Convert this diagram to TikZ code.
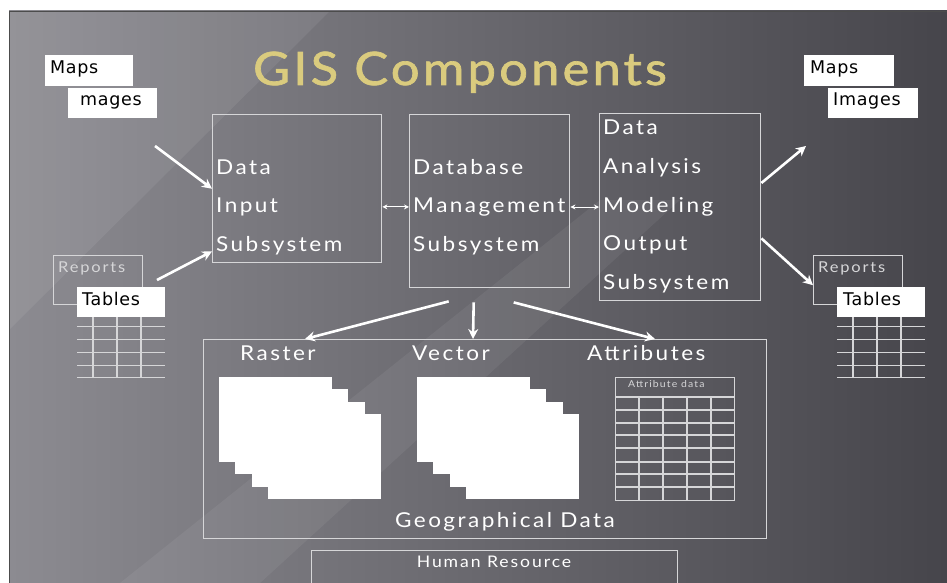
\documentclass[tikz,border=0pt]{standalone}
\usepackage{fontspec}
\usepackage{xcolor}
\usepackage{tikz}
\usetikzlibrary{arrows.meta,positioning,calc}
\newfontfamily\slidefont[FakeStretch=1.1,LetterSpace=12]{Lato}
\newfontfamily\titlefont[FakeStretch=1.1,LetterSpace=7,FakeBold=1.5]{Lato}
\newfontfamily\labelfont[LetterSpace=4]{DejaVu Sans}
\definecolor{slideleft}{HTML}{8C8B91}
\definecolor{slideright}{HTML}{46454B}
\definecolor{framegray}{HTML}{D6D6D8}
\definecolor{titlegold}{HTML}{DACB7E}
\tikzset{
  sysbox/.style={draw=framegray,line width=1.4pt,anchor=north west,inner sep=0pt},
  whitebox/.style={fill=white,anchor=north west,inner sep=0pt},
  boxtext/.style={anchor=base west,inner sep=0pt,text=white,font=\slidefont\fontsize{20.5}{24}\selectfont},
  smalltext/.style={anchor=base west,inner sep=0pt,text=framegray,font=\slidefont\fontsize{15}{18}\selectfont},
  labeltext/.style={anchor=base west,inner sep=0pt,text=black,font=\labelfont\fontsize{17.5}{20}\selectfont},
  gridline/.style={framegray,line width=1.3pt},
  bigarrow/.style={white,line width=2.6pt,->},
  linkarrow/.style={white,line width=1pt,{Stealth[length=5pt,width=5pt]}-{Stealth[length=5pt,width=5pt]}}
}
\begin{document}
\begin{tikzpicture}[x=1pt,y=-1pt,>={Stealth[length=10pt,width=10pt]}]
\useasboundingbox (0,0) rectangle (947,583);
% slide background
\fill[white] (0,0) rectangle (947,583);
\shade[left color=slideleft,right color=slideright] (9,11) rectangle (947,583);
\fill[white,opacity=.07] (9,11) -- (330,11) -- (9,330) -- cycle;
\fill[white,opacity=.06] (120,583) -- (600,200) -- (680,200) -- (260,583) -- cycle;
\draw[black!70,line width=1pt] (9.5,583) -- (9.5,11.5) -- (947,11.5);

% title
\node[anchor=base,inner sep=0pt,text=titlegold,font=\titlefont\fontsize{46}{50}\selectfont] (title) at (460,85) {GIS Components};

% input labels
\node[whitebox,minimum width=88,minimum height=31] (mapsL) at (45,55) {};
\node[labeltext] (mapsLt) at (50,74) {Maps};
\node[whitebox,minimum width=89,minimum height=30] (imgL) at (68,88) {};
\node[labeltext] (imgLt) at (80,106) {mages};
\node[sysbox,minimum width=89,minimum height=49] (rptL) at (53,255) {};
\node[smalltext] (rptLt) at (58,272) {Reports};
\node[whitebox,minimum width=88,minimum height=30] (tabL) at (77,287) {};
\node[labeltext] (tabLt) at (82,305) {Tables};
\foreach \y in {9,22,35,48,60}
  \draw[gridline] ($(tabL.south west)+(0,\y)$) -- ($(tabL.south east)+(0,\y)$);
\foreach \x in {16,40,64}
  \draw[gridline] ($(tabL.south west)+(\x,0)$) -- ++(0,60);

% output labels
\node[whitebox,minimum width=90,minimum height=31] (mapsR) at (804,55) {};
\node[labeltext] (mapsRt) at (810,74) {Maps};
\node[whitebox,minimum width=90,minimum height=30] (imgR) at (828,88) {};
\node[labeltext] (imgRt) at (833,106) {Images};
\node[sysbox,minimum width=89,minimum height=49] (rptR) at (813,255) {};
\node[smalltext] (rptRt) at (818,272) {Reports};
\node[whitebox,minimum width=88,minimum height=30] (tabR) at (837,287) {};
\node[labeltext] (tabRt) at (843,305) {Tables};
\foreach \y in {9,22,35,48,60}
  \draw[gridline] ($(tabR.south west)+(0,\y)$) -- ($(tabR.south east)+(0,\y)$);
\foreach \x in {16,40,64}
  \draw[gridline] ($(tabR.south west)+(\x,0)$) -- ++(0,60);

% subsystems
\node[sysbox,minimum width=169,minimum height=148] (inbox) at (212,114) {};
\foreach \t [count=\i] in {Data,Input,Subsystem}
  \node[boxtext] (in\i) at (216,{174+38.5*(\i-1)}) {\t};
\node[sysbox,minimum width=160,minimum height=173] (dbbox) at (409,114) {};
\foreach \t [count=\i] in {Database,Management,Subsystem}
  \node[boxtext] (db\i) at (413,{174+38.5*(\i-1)}) {\t};
\node[sysbox,minimum width=161,minimum height=187] (outbox) at (599,113) {};
\foreach \t [count=\i] in {Data,Analysis,Modeling,Output,Subsystem}
  \node[boxtext] (out\i) at (603,{135+38.5*(\i-1)}) {\t};

\draw[linkarrow] (inbox.east |- in2) -- (dbbox.west |- in2);
\draw[linkarrow] (dbbox.east |- db2) -- (outbox.west |- db2);

% in / out arrows
\coordinate (fromimg) at (155,146);
\coordinate (fromtab) at (157,280);
\coordinate (toimg) at (806,146);
\draw[bigarrow] (fromimg) -- (inbox.west);
\draw[bigarrow] (fromtab) -- ([yshift=12]inbox.south west);
\draw[bigarrow] ([yshift=-70]outbox.north east) -- (toimg);
\draw[bigarrow] ([yshift=63]outbox.south east) -- ([yshift=-5]rptR.west);

% geographical data
\node[sysbox,minimum width=563,minimum height=199] (geobox) at (203,339) {};
\node[boxtext] (raster) at (240,360) {Raster};
\node[boxtext] (vector) at (412,360) {Vector};
\node[boxtext] (attrib) at (587,360) {Attributes};
\node[boxtext,anchor=base] (geolabel) at (505,527) {Geographical Data};

\coordinate (dbl) at ($(dbbox.south)+(-41,13)$);
\coordinate (dbm) at ($(dbbox.south)+(-16,14)$);
\coordinate (dbr) at ($(dbbox.south)+(24,14)$);
\draw[bigarrow] (dbl) -- ($(geobox.north west)+(102,0)$);
\draw[bigarrow] (dbm) -- ($(geobox.north west)+(270,0)$);
\draw[bigarrow] (dbr) -- ($(geobox.north west)+(452,0)$);

\foreach \k in {0,...,3}
  \fill[white] ($(219,377)+(\k*16.3,\k*12.3)$) rectangle +(113,85);
\foreach \k in {0,...,3}
  \fill[white] ($(417,377)+(\k*16.3,\k*12.3)$) rectangle +(113,85);

\node[sysbox,line width=1.2pt,minimum width=119,minimum height=123] (attrtab) at (615,377) {};
\node[anchor=base west,inner sep=0pt,text=framegray,font=\slidefont\fontsize{9.5}{11}\selectfont] (attrhead) at (628,387) {Attribute data};
\foreach \y in {20,33,46,58,71,85,97,110}
  \draw[gridline,line width=1.2pt] ($(attrtab.north west)+(0,\y)$) -- ($(attrtab.north east)+(0,\y)$);
\foreach \x in {24,48,72,96}
  \draw[gridline,line width=1.2pt] ($(attrtab.north west)+(\x,20)$) -- ($(attrtab.south west)+(\x,0)$);

% human resource
\node[sysbox,minimum width=366,minimum height=50] (hrbox) at (311,550) {};
\node[smalltext,anchor=base,text=white,font=\slidefont\fontsize{16}{18}\selectfont] (hrlabel) at (494,567) {Human Resource};
\end{tikzpicture}
\end{document}
